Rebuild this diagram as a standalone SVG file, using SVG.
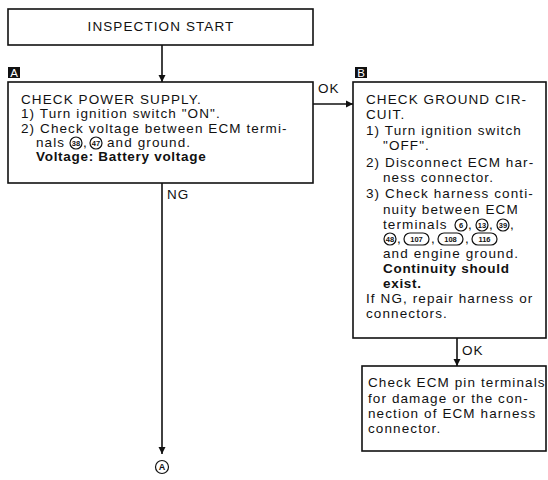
<svg xmlns="http://www.w3.org/2000/svg" width="548" height="480" viewBox="0 0 548 480">
<defs>
<style>
.box{fill:#fff;stroke:#111;stroke-width:1.6}
.t{font-family:"Liberation Sans",Arial,Helvetica,sans-serif;font-size:13.5px;letter-spacing:1.1px;fill:#111}
.b{font-weight:bold;letter-spacing:0.7px}
.c{fill:#fff;stroke:#111;stroke-width:1.2}
.cn{font-family:"Liberation Sans",Arial,sans-serif;font-size:7.5px;font-weight:bold;fill:#111;text-anchor:middle}
.tag{fill:#111}
.tagt{font-family:"Liberation Sans",Arial,sans-serif;font-size:11.5px;fill:#fff;text-anchor:middle}
.ln{fill:none;stroke:#111;stroke-width:1.6}
</style>
<marker id="ah" markerWidth="8" markerHeight="8" refX="7" refY="4" orient="auto" markerUnits="userSpaceOnUse">
<path d="M0,0.5 L7,4 L0,7.5 Z" fill="#111"/>
</marker>
</defs>
<rect width="548" height="480" fill="#fff"/>

<g id="start">
<rect class="box" x="8" y="9" width="305" height="36"/>
<text class="t" x="161" y="31" text-anchor="middle">INSPECTION START</text>
</g>

<g id="nodeA">
<rect class="tag" x="8" y="67" width="12" height="11"/>
<text class="tagt" x="14" y="77">A</text>
<rect class="box" x="8" y="82" width="305" height="101"/>
<text class="t" x="21" y="104">CHECK POWER SUPPLY.</text>
<text class="t" x="21" y="118">1) Turn ignition switch "ON".</text>
<text class="t" x="21" y="133">2) Check voltage between ECM termi-</text>
<text class="t" x="36" y="147">nals</text>
<circle class="c" cx="76" cy="143" r="6"/>
<text class="cn" x="76" y="145.7">38</text>
<text class="t" x="83" y="147">,</text>
<circle class="c" cx="96" cy="143" r="6"/>
<text class="cn" x="96" y="145.7">47</text>
<text class="t" x="107" y="147">and ground.</text>
<text class="t b" x="36" y="161">Voltage: Battery voltage</text>
</g>

<g id="nodeB">
<rect class="tag" x="355" y="67" width="12" height="11"/>
<text class="tagt" x="361" y="77">B</text>
<rect class="box" x="353" y="82" width="193" height="256"/>
<text class="t" x="366" y="104">CHECK GROUND CIR-</text>
<text class="t" x="366" y="119">CUIT.</text>
<text class="t" x="366" y="135">1) Turn ignition switch</text>
<text class="t" x="383" y="150">"OFF".</text>
<text class="t" x="366" y="167">2) Disconnect ECM har-</text>
<text class="t" x="383" y="182">ness connector.</text>
<text class="t" x="366" y="198">3) Check harness conti-</text>
<text class="t" x="383" y="214">nuity between ECM</text>
<text class="t" x="383" y="229">terminals</text>
<circle class="c" cx="461" cy="225" r="6"/>
<text class="cn" x="461" y="227.7">6</text>
<text class="t" x="468" y="229">,</text>
<circle class="c" cx="482" cy="225" r="6"/>
<text class="cn" x="482" y="227.7">13</text>
<text class="t" x="489" y="229">,</text>
<circle class="c" cx="503" cy="225" r="6"/>
<text class="cn" x="503" y="227.7">39</text>
<text class="t" x="510" y="229">,</text>
<circle class="c" cx="390" cy="239" r="6"/>
<text class="cn" x="390" y="241.7">48</text>
<text class="t" x="397" y="243">,</text>
<rect class="c" x="404" y="233" width="25" height="12" rx="6"/>
<text class="cn" x="416.5" y="241.7">107</text>
<text class="t" x="431" y="243">,</text>
<rect class="c" x="438" y="233" width="25" height="12" rx="6"/>
<text class="cn" x="450.5" y="241.7">108</text>
<text class="t" x="465" y="243">,</text>
<rect class="c" x="472" y="233" width="25" height="12" rx="6"/>
<text class="cn" x="484.5" y="241.7">116</text>
<text class="t" x="383" y="258">and engine ground.</text>
<text class="t b" x="383" y="273">Continuity should</text>
<text class="t b" x="383" y="288">exist.</text>
<text class="t" x="366" y="303">If NG, repair harness or</text>
<text class="t" x="366" y="318">connectors.</text>
</g>

<g id="nodeC">
<rect class="box" x="362" y="366" width="184" height="85"/>
<text class="t" x="368" y="387">Check ECM pin terminals</text>
<text class="t" x="368" y="403">for damage or the con-</text>
<text class="t" x="368" y="418">nection of ECM harness</text>
<text class="t" x="368" y="433">connector.</text>
</g>

<g id="connA">
<circle class="c" cx="162" cy="467" r="6.5"/>
<text class="cn" x="162" y="470.2" style="font-size:9px">A</text>
</g>

<g id="connectors">
<line class="ln" x1="162" y1="45" x2="162" y2="82" marker-end="url(#ah)"/>
<line class="ln" x1="313" y1="104" x2="353" y2="104" marker-end="url(#ah)"/>
<text class="t" x="318" y="93">OK</text>
<line class="ln" x1="162" y1="183" x2="162" y2="454" marker-end="url(#ah)"/>
<text class="t" x="167" y="199">NG</text>
<line class="ln" x1="457" y1="338" x2="457" y2="366" marker-end="url(#ah)"/>
<text class="t" x="462" y="355">OK</text>
</g>
</svg>
